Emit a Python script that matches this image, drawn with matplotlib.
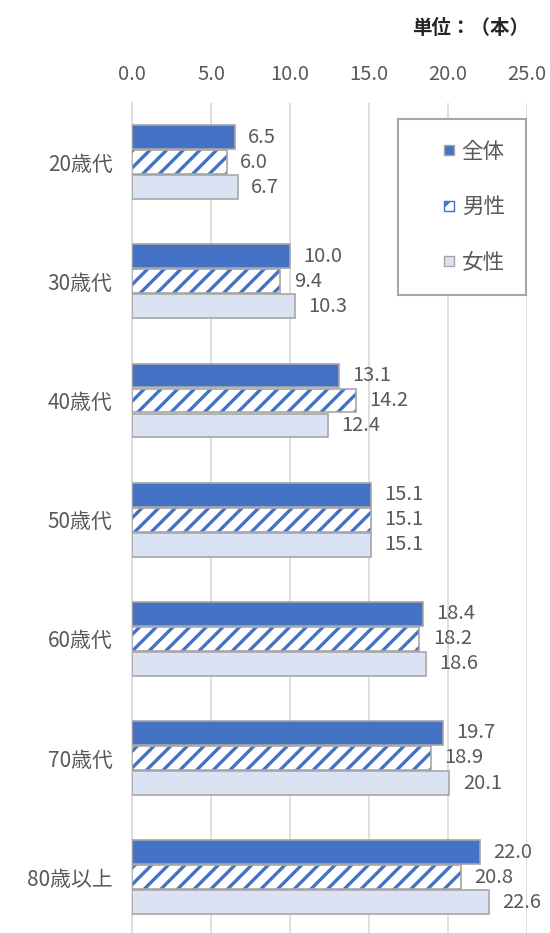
import matplotlib as mpl

mpl.use("Agg")

import matplotlib.pyplot as plt
import numpy as np
from matplotlib.legend_handler import HandlerPatch
from matplotlib.patches import Patch, Rectangle

plt.rcParams["font.family"] = ["Noto Sans CJK JP", "DejaVu Sans"]
plt.rcParams["hatch.linewidth"] = 2.4

ages = ["20歳代", "30歳代", "40歳代", "50歳代", "60歳代", "70歳代", "80歳以上"]
total = [6.5, 10.0, 13.1, 15.1, 18.4, 19.7, 22.0]
male = [6.0, 9.4, 14.2, 15.1, 18.2, 18.9, 20.8]
female = [6.7, 10.3, 12.4, 15.1, 18.6, 20.1, 22.6]
xticks = [0.0, 5.0, 10.0, 15.0, 20.0, 25.0]

blue = "#4472c4"
pale = "#dae3f3"
edge = "#a6a6a6"
text_gray = "#595959"


def small_square(legend, orig_handle, xdescent, ydescent, width, height,
                 fontsize):
    # small key pushed to the right end of the handle slot
    s = 0.47 * fontsize
    return Rectangle((width - s - xdescent, (height - s) / 2 - ydescent), s, s)


def main():
    fig = plt.figure(figsize=(5.5, 9.33), dpi=100)
    ax = fig.add_axes([0.24, -0.004, 0.718, 0.894])

    y = np.arange(len(ages))
    h = 0.2
    step = 0.21

    ax.barh(y - step, total, height=h, color=blue, edgecolor=edge,
            linewidth=1.2, zorder=3)
    # hatched bars: stripes first, then the grey outline on top
    ax.barh(y, male, height=h, color="white", edgecolor=blue, hatch="//",
            linewidth=0, zorder=3)
    ax.barh(y, male, height=h, color="none", edgecolor=edge,
            linewidth=1.2, zorder=4)
    ax.barh(y + step, female, height=h, color=pale, edgecolor=edge,
            linewidth=1.2, zorder=3)

    for vals, off in ((total, -step), (male, 0), (female, step)):
        for yi, v in zip(y, vals):
            ax.text(v + 0.85, yi + off, f"{v:.1f}", va="center", ha="left",
                    fontsize=14.5, color=text_gray, zorder=5)

    ax.set_xlim(0, 25)
    ax.set_ylim(len(ages) - 0.5, -0.5)
    ax.set_xticks(xticks)
    ax.set_xticklabels([f"{t:.1f}" for t in xticks])
    ax.xaxis.tick_top()
    ax.tick_params(axis="x", length=0, pad=13, labelsize=14.5,
                   labelcolor=text_gray)
    ax.set_yticks(y)
    ax.set_yticklabels(ages)
    ax.tick_params(axis="y", length=0, pad=14, labelsize=15,
                   labelcolor=text_gray)
    ax.grid(axis="x", color="#d9d9d9", linewidth=1.2, zorder=0)
    for s in ("top", "right", "bottom"):
        ax.spines[s].set_visible(False)
    ax.spines["left"].set_color("#d9d9d9")
    ax.spines["left"].set_linewidth(1.2)
    ax.spines["left"].set_zorder(2)

    handles = [
        Patch(facecolor=blue, edgecolor=edge, label="全体"),
        Patch(facecolor="white", edgecolor=blue, hatch="//", label="男性"),
        Patch(facecolor=pale, edgecolor=edge, label="女性"),
    ]
    leg = ax.legend(handles=handles, loc="upper right",
                    bbox_to_anchor=(0.998, 0.98), fontsize=15.5,
                    handler_map={Patch: HandlerPatch(patch_func=small_square)},
                    handlelength=1.6, handleheight=0.5, handletextpad=0.35,
                    labelspacing=1.55, borderpad=1.0, borderaxespad=0,
                    fancybox=False, framealpha=1, edgecolor="#a6a6a6",
                    labelcolor=text_gray)
    leg.get_frame().set_linewidth(1.5)
    leg.set_zorder(6)

    fig.text(0.962, 0.97, "単位：（本）", ha="right", va="center",
             fontsize=14, fontweight="bold", color="#262626")

    fig.savefig("out.png", dpi=100)


if __name__ == "__main__":
    main()
